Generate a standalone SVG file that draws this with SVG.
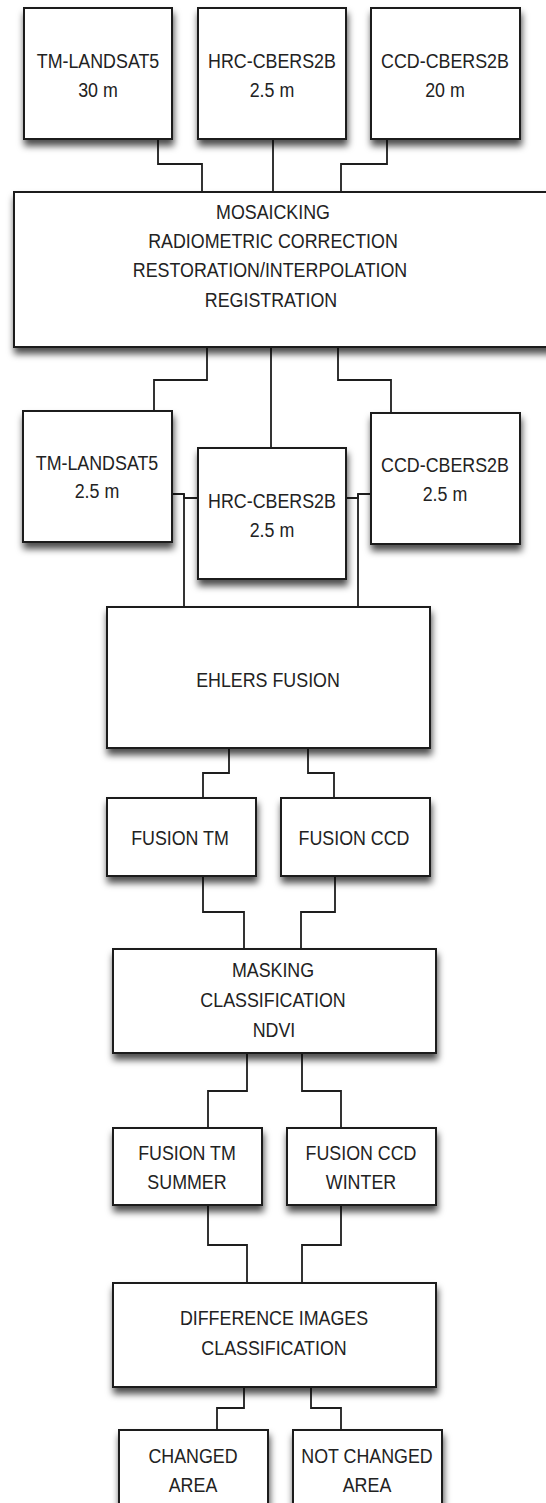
<svg xmlns="http://www.w3.org/2000/svg" width="546" height="1503" viewBox="0 0 546 1503">
<defs>
<filter id="sh" x="-10%" y="-10%" width="130%" height="140%">
<feDropShadow dx="1" dy="6" stdDeviation="3.5" flood-color="#000" flood-opacity="0.7"/>
</filter>
<style>
.box{fill:#fff;stroke:#1e1e1e;stroke-width:2;filter:url(#sh)}
.t{font-family:"Liberation Sans",Arial,sans-serif;font-size:21px;fill:#222;text-anchor:middle}
.c{fill:none;stroke:#1e1e1e;stroke-width:1.8}
</style>
</defs>
<rect width="546" height="1503" fill="#fff"/>
<g id="connectors">
<path class="c" d="M158,139 V164 H202 V192"/>
<path class="c" d="M273,139 V192"/>
<path class="c" d="M387,139 V164 H341 V192"/>
<path class="c" d="M207,347 V380 H154 V411"/>
<path class="c" d="M271,347 V448"/>
<path class="c" d="M338,347 V380 H391 V413"/>
<path class="c" d="M172,494 H184 V498 H198"/>
<path class="c" d="M184,494 V607"/>
<path class="c" d="M346,498 H358 V494 H371"/>
<path class="c" d="M358,494 V607"/>
<path class="c" d="M229,748 V773 H203 V798"/>
<path class="c" d="M308,748 V773 H334 V798"/>
<path class="c" d="M203,876 V912 H244 V948"/>
<path class="c" d="M335,876 V912 H301 V948"/>
<path class="c" d="M247,1053 V1091 H208 V1128"/>
<path class="c" d="M302,1053 V1091 H341 V1128"/>
<path class="c" d="M208,1205 V1245 H247 V1283"/>
<path class="c" d="M341,1205 V1245 H302 V1283"/>
<path class="c" d="M244,1387 V1408 H217 V1430"/>
<path class="c" d="M311,1387 V1408 H341 V1430"/>
</g>
<g id="tm30"><rect class="box" x="24" y="8" width="148" height="131"/><text class="t" transform="translate(98,68) scale(0.85,1)">TM-LANDSAT5</text><text class="t" transform="translate(98,97) scale(0.85,1)">30 m</text></g>
<g id="hrc25top"><rect class="box" x="198" y="8" width="148" height="131"/><text class="t" transform="translate(272,68) scale(0.85,1)">HRC-CBERS2B</text><text class="t" transform="translate(272,97) scale(0.85,1)">2.5 m</text></g>
<g id="ccd20"><rect class="box" x="371" y="8" width="149" height="131"/><text class="t" transform="translate(445,68) scale(0.85,1)">CCD-CBERS2B</text><text class="t" transform="translate(445,97) scale(0.85,1)">20 m</text></g>
<g id="mosaic"><rect class="box" x="14" y="192" width="540" height="155"/><text class="t" transform="translate(273,219) scale(0.85,1)">MOSAICKING</text><text class="t" transform="translate(273,248) scale(0.85,1)">RADIOMETRIC CORRECTION</text><text class="t" transform="translate(270,277) scale(0.85,1)">RESTORATION/INTERPOLATION</text><text class="t" transform="translate(271,307) scale(0.85,1)">REGISTRATION</text></g>
<g id="tm25"><rect class="box" x="23" y="411" width="149" height="131"/><text class="t" transform="translate(97,470) scale(0.85,1)">TM-LANDSAT5</text><text class="t" transform="translate(97,498) scale(0.85,1)">2.5 m</text></g>
<g id="ccd25"><rect class="box" x="371" y="413" width="149" height="131"/><text class="t" transform="translate(445,472) scale(0.85,1)">CCD-CBERS2B</text><text class="t" transform="translate(445,501) scale(0.85,1)">2.5 m</text></g>
<g id="hrc25"><rect class="box" x="198" y="448" width="148" height="131"/><text class="t" transform="translate(272,508) scale(0.85,1)">HRC-CBERS2B</text><text class="t" transform="translate(272,537) scale(0.85,1)">2.5 m</text></g>
<g id="ehlers"><rect class="box" x="107" y="607" width="323" height="141"/><text class="t" transform="translate(268,687) scale(0.85,1)">EHLERS FUSION</text></g>
<g id="fusiontm"><rect class="box" x="107" y="798" width="149" height="78"/><text class="t" transform="translate(180,845) scale(0.85,1)">FUSION TM</text></g>
<g id="fusionccd"><rect class="box" x="281" y="798" width="149" height="78"/><text class="t" transform="translate(354,845) scale(0.85,1)">FUSION CCD</text></g>
<g id="masking"><rect class="box" x="113" y="949" width="323" height="104"/><text class="t" transform="translate(273,977) scale(0.85,1)">MASKING</text><text class="t" transform="translate(273,1007) scale(0.85,1)">CLASSIFICATION</text><text class="t" transform="translate(274,1037) scale(0.85,1)">NDVI</text></g>
<g id="summer"><rect class="box" x="113" y="1128" width="149" height="77"/><text class="t" transform="translate(187,1160) scale(0.85,1)">FUSION TM</text><text class="t" transform="translate(187,1189) scale(0.85,1)">SUMMER</text></g>
<g id="winter"><rect class="box" x="287" y="1128" width="149" height="77"/><text class="t" transform="translate(361,1160) scale(0.85,1)">FUSION CCD</text><text class="t" transform="translate(361,1189) scale(0.85,1)">WINTER</text></g>
<g id="difference"><rect class="box" x="113" y="1283" width="323" height="104"/><text class="t" transform="translate(274,1325) scale(0.85,1)">DIFFERENCE IMAGES</text><text class="t" transform="translate(274,1355) scale(0.85,1)">CLASSIFICATION</text></g>
<g id="changed"><rect class="box" x="119" y="1430" width="149" height="90"/><text class="t" transform="translate(193,1463) scale(0.85,1)">CHANGED</text><text class="t" transform="translate(193,1492) scale(0.85,1)">AREA</text></g>
<g id="notchanged"><rect class="box" x="293" y="1430" width="149" height="90"/><text class="t" transform="translate(367,1463) scale(0.85,1)">NOT CHANGED</text><text class="t" transform="translate(367,1492) scale(0.85,1)">AREA</text></g>
</svg>
